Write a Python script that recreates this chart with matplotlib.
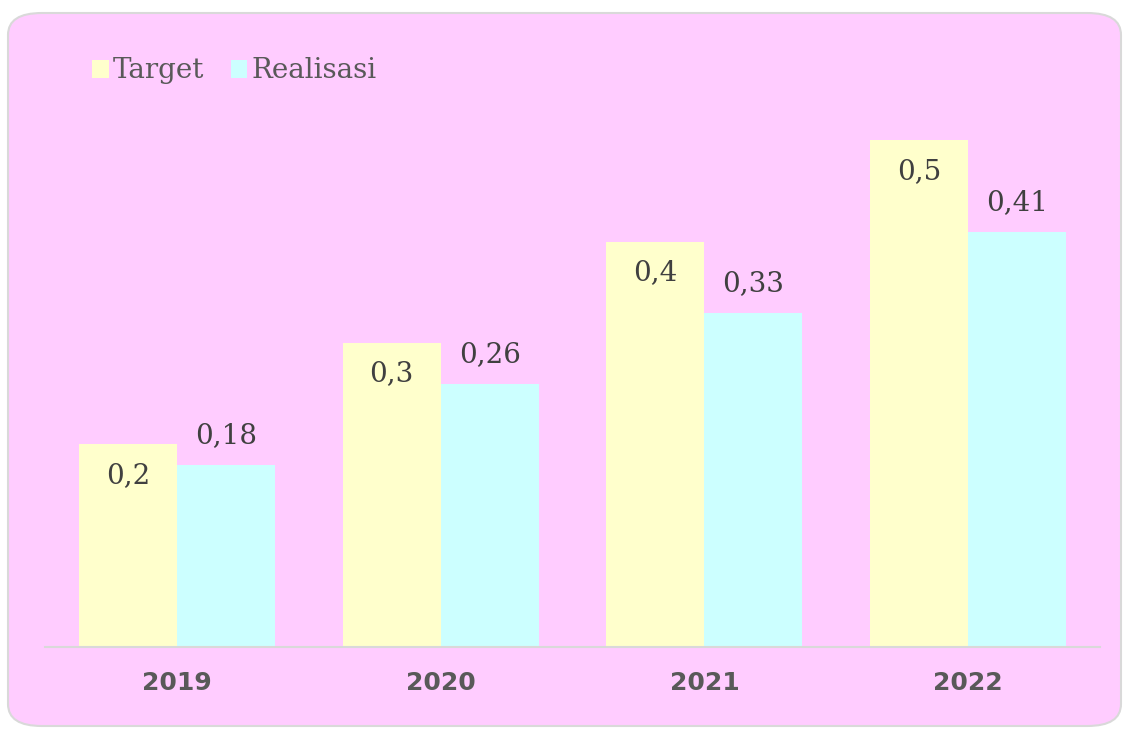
import matplotlib
matplotlib.use('agg')

import matplotlib.pyplot as plt
import matplotlib.patches as patches
import numpy as np

# data
years = ['2019', '2020', '2021', '2022']
target = [0.2, 0.3, 0.4, 0.5]
realisasi = [0.18, 0.26, 0.33, 0.41]
target_labels = ['0,2', '0,3', '0,4', '0,5']
realisasi_labels = ['0,18', '0,26', '0,33', '0,41']

pink = '#FFCCFF'
yellow = '#FFFFCC'
cyan = '#CCFFFF'
grey_text = '#595959'

fig = plt.figure(figsize=(11.25, 7.31), dpi=100)
W, H = 1125, 731

# rounded pink panel behind everything
panel = patches.FancyBboxPatch((8 / W, 5 / H), 1113 / W, 713 / H,
                               boxstyle='round,pad=0,rounding_size=0.03',
                               transform=fig.transFigure, facecolor=pink,
                               edgecolor='#D9D9D9', linewidth=1.5, zorder=-5)
fig.patches.append(panel)

ax = fig.add_axes([45 / W, (H - 647) / H, 1055 / W, 608 / H], zorder=2)
ax.set_facecolor('none')

x = np.arange(len(years))
w = 98 / 264
ax.bar(x - w / 2, target, width=w, color=yellow, label='Target', zorder=2)
ax.bar(x + w / 2, realisasi, width=w, color=cyan, label='Realisasi', zorder=2)

for i in range(len(years)):
    ax.annotate(target_labels[i], (x[i] - w / 2, target[i]), xytext=(0, -31),
                textcoords='offset pixels', ha='center', va='center',
                fontsize=20, family='DejaVu Serif', color='#404040')
    ax.annotate(realisasi_labels[i], (x[i] + w / 2, realisasi[i]), xytext=(0, 29),
                textcoords='offset pixels', ha='center', va='center',
                fontsize=20, family='DejaVu Serif', color='#404040')

ax.set_xlim(-0.5, 3.5)
ax.set_ylim(0, 0.6)
ax.set_yticks([])
ax.set_xticks(x)
ax.set_xticklabels(years, fontsize=18, fontweight='bold', color=grey_text)
ax.tick_params(axis='x', length=0, pad=17)
for s in ['top', 'right', 'left']:
    ax.spines[s].set_visible(False)
ax.spines['bottom'].set_color('#D9D9D9')
ax.spines['bottom'].set_linewidth(1.5)

leg = fig.legend(loc='center left', bbox_to_anchor=(67 / W, (H - 71) / H),
                 ncol=2, frameon=False, handlelength=0.6, handleheight=0.6,
                 handletextpad=0.15, columnspacing=0.95,
                 prop={'family': 'DejaVu Serif', 'size': 20})
for t in leg.get_texts():
    t.set_color(grey_text)

plt.savefig('out.png', dpi=100)
